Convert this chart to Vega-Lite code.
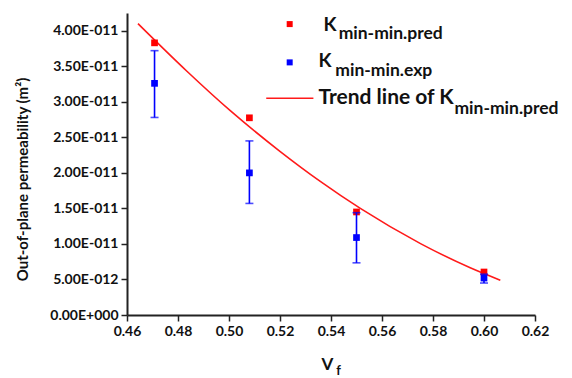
{
  "$schema": "https://vega.github.io/schema/vega-lite/v6.json",
  "width": 408,
  "height": 302,
  "autosize": {"type": "none"},
  "padding": {"left": 127, "top": 13, "right": 37, "bottom": 63},
  "background": "white",
  "config": {
    "view": {"stroke": null},
    "font": "Lato",
    "axis": {
      "domainColor": "#222222",
      "domainWidth": 2,
      "tickColor": "#222222",
      "tickWidth": 1.5,
      "grid": false,
      "labelFont": "Lato",
      "labelFontWeight": "bold",
      "labelFontSize": 14,
      "labelColor": "#111111",
      "titleFont": "Lato",
      "titleFontWeight": "bold",
      "titleColor": "#111111",
      "labelPadding": 3,
      "labelFlush": false,
      "labelOverlap": false
    },
    "axisX": {
      "title": "V",
      "titleFontSize": 17,
      "titleX": 200,
      "titleY": 54,
      "titleBaseline": "alphabetic",
      "values": [0.46, 0.47, 0.48, 0.49, 0.5, 0.51, 0.52, 0.53, 0.54, 0.55, 0.56, 0.57, 0.58, 0.59, 0.6, 0.61, 0.62],
      "labelExpr": "round(datum.value*100) % 2 == 0 ? format(datum.value, '.2f') : ''",
      "tickSize": {"expr": "round(datum.value*100) % 2 == 0 ? 6 : 3"}
    },
    "axisY": {
      "titleFontSize": 15,
      "titleX": -97,
      "titleY": 166,
      "values": [0, 2.5e-12, 5e-12, 7.5e-12, 1e-11, 1.25e-11, 1.5e-11, 1.75e-11, 2e-11, 2.25e-11, 2.5e-11, 2.75e-11, 3e-11, 3.25e-11, 3.5e-11, 3.75e-11, 4e-11, 4.25e-11],
      "labelExpr": "round(datum.value/2.5e-12) % 2 != 0 ? '' : (datum.value == 0 ? '0.00E+000' : (datum.value < 9.9e-12 ? format(datum.value*1e12, '.2f') + 'E-012' : format(datum.value*1e11, '.2f') + 'E-011'))",
      "tickSize": {"expr": "round(datum.value/2.5e-12) % 2 == 0 ? 6 : 3"}
    }
  },
  "datasets": {
    "pred": [
      {"v": 0.4708, "k": 3.83e-11},
      {"v": 0.508, "k": 2.775e-11},
      {"v": 0.55, "k": 1.45e-11},
      {"v": 0.6, "k": 6.05e-12}
    ],
    "exp": [
      {"v": 0.4708, "k": 3.26e-11, "lo": 2.78e-11, "hi": 3.72e-11},
      {"v": 0.508, "k": 2.0e-11, "lo": 1.57e-11, "hi": 2.45e-11},
      {"v": 0.55, "k": 1.09e-11, "lo": 7.34e-12, "hi": 1.44e-11},
      {"v": 0.6, "k": 5.2e-12, "lo": 4.5e-12, "hi": 5.75e-12}
    ],
    "trend": [
      {"v": 0.4643, "k": 4.1e-11},
      {"v": 0.4835, "k": 3.43e-11},
      {"v": 0.5005, "k": 2.875e-11},
      {"v": 0.5201, "k": 2.3e-11},
      {"v": 0.5358, "k": 1.88e-11},
      {"v": 0.5515, "k": 1.5e-11},
      {"v": 0.5751, "k": 1.005e-11},
      {"v": 0.5946, "k": 6.65e-12},
      {"v": 0.6064, "k": 4.9e-12}
    ],
    "one": [{"id": 1}]
  },
  "layer": [
    {
      "encoding": {
        "x": {
          "field": "v",
          "type": "quantitative",
          "scale": {"domain": [0.46, 0.62], "nice": false, "zero": false},
          "axis": {"title": "V"}
        },
        "y": {
          "field": "k",
          "type": "quantitative",
          "scale": {"domain": [0, 4.25e-11], "nice": false, "zero": true},
          "axis": {"title": "Out-of-plane permeability (m²)"}
        }
      },
      "layer": [
        {
          "data": {"name": "trend"},
          "mark": {"type": "line", "color": "#ff1a1a", "strokeWidth": 1.6, "interpolate": "monotone"}
        },
        {
          "data": {"name": "pred"},
          "mark": {"type": "square", "color": "#ff0000", "opacity": 1, "size": 45, "filled": true}
        },
        {
          "data": {"name": "exp"},
          "mark": {"type": "errorbar", "color": "#0000ff", "thickness": 1.6, "size": 8, "ticks": true},
          "encoding": {
            "y": {"field": "lo", "type": "quantitative"},
            "y2": {"field": "hi"}
          }
        },
        {
          "data": {"name": "exp"},
          "mark": {"type": "square", "color": "#0000ff", "opacity": 1, "size": 45, "filled": true}
        }
      ]
    },
    {
      "data": {"name": "one"},
      "mark": {"type": "square", "color": "#ff0000", "opacity": 1, "size": 36, "filled": true},
      "encoding": {"x": {"datum": 0.5238, "type": "quantitative"}, "y": {"datum": 4.094e-11, "type": "quantitative"}}
    },
    {
      "data": {"name": "one"},
      "mark": {"type": "square", "color": "#0000ff", "opacity": 1, "size": 36, "filled": true},
      "encoding": {"x": {"datum": 0.5238, "type": "quantitative"}, "y": {"datum": 3.555e-11, "type": "quantitative"}}
    },
    {
      "data": {"name": "one"},
      "mark": {"type": "rule", "color": "#ff1a1a", "strokeWidth": 1.6},
      "encoding": {"x": {"datum": 0.5146, "type": "quantitative"}, "x2": {"datum": 0.5331}, "y": {"datum": 3.05e-11, "type": "quantitative"}}
    },
    {
      "data": {"name": "one"},
      "mark": {"type": "text", "font": "Lato", "fontWeight": "bold", "fontSize": 19, "align": "left", "baseline": "alphabetic", "color": "#111111"},
      "encoding": {"x": {"datum": 0.5371, "type": "quantitative"}, "y": {"datum": 4.0e-11, "type": "quantitative"}, "text": {"value": "K"}}
    },
    {
      "data": {"name": "one"},
      "mark": {"type": "text", "font": "Lato", "fontWeight": "bold", "fontSize": 17.5, "align": "left", "baseline": "alphabetic", "color": "#111111"},
      "encoding": {"x": {"datum": 0.543, "type": "quantitative"}, "y": {"datum": 3.884e-11, "type": "quantitative"}, "text": {"value": "min-min.pred"}}
    },
    {
      "data": {"name": "one"},
      "mark": {"type": "text", "font": "Lato", "fontWeight": "bold", "fontSize": 19, "align": "left", "baseline": "alphabetic", "color": "#111111"},
      "encoding": {"x": {"datum": 0.5351, "type": "quantitative"}, "y": {"datum": 3.488e-11, "type": "quantitative"}, "text": {"value": "K"}}
    },
    {
      "data": {"name": "one"},
      "mark": {"type": "text", "font": "Lato", "fontWeight": "bold", "fontSize": 17.5, "align": "left", "baseline": "alphabetic", "color": "#111111"},
      "encoding": {"x": {"datum": 0.5417, "type": "quantitative"}, "y": {"datum": 3.368e-11, "type": "quantitative"}, "text": {"value": "min-min.exp"}}
    },
    {
      "data": {"name": "one"},
      "mark": {"type": "text", "font": "Lato", "fontWeight": "bold", "fontSize": 21, "align": "left", "baseline": "alphabetic", "color": "#111111"},
      "encoding": {"x": {"datum": 0.5351, "type": "quantitative"}, "y": {"datum": 2.971e-11, "type": "quantitative"}, "text": {"value": "Trend line of K"}}
    },
    {
      "data": {"name": "one"},
      "mark": {"type": "text", "font": "Lato", "fontWeight": "bold", "fontSize": 17.5, "align": "left", "baseline": "alphabetic", "color": "#111111"},
      "encoding": {"x": {"datum": 0.5884, "type": "quantitative"}, "y": {"datum": 2.831e-11, "type": "quantitative"}, "text": {"value": "min-min.pred"}}
    },
    {
      "data": {"name": "one"},
      "mark": {"type": "text", "font": "Lato", "fontWeight": "bold", "fontSize": 13, "align": "left", "baseline": "alphabetic", "color": "#111111"},
      "encoding": {"x": {"datum": 0.5421, "type": "quantitative"}, "y": {"datum": -8.4e-12, "type": "quantitative"}, "text": {"value": "f"}}
    }
  ]
}
